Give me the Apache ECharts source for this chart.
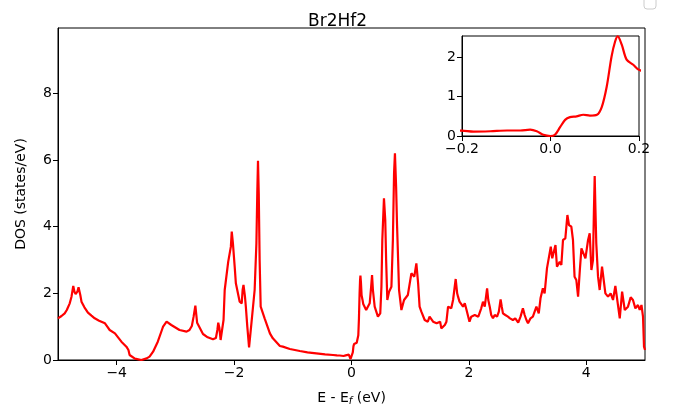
<!DOCTYPE html>
<html>
<head>
<meta charset="utf-8">
<script src="https://cdn.jsdelivr.net/npm/echarts@6/dist/echarts.min.js"></script>
<style>html,body{margin:0;padding:0;background:#fff;}#c{width:675px;height:417px;}</style>
</head>
<body>
<div id="c"></div>
<script>
const title = 'Br2Hf2';
const xTicksMain = [-4, -2, 0, 2, 4];
const yTicksMain = [0, 2, 4, 6, 8];
const xTicksInset = [-0.2, 0, 0.2];
const yTicksInset = [0, 1, 2];

const energy = [
-5.00,-4.97,-4.94,-4.91,-4.886,-4.85,-4.80,-4.77,-4.74,-4.72,-4.70,-4.67,-4.65,-4.62,-4.60,-4.55,-4.49,-4.43,-4.375,-4.30,
-4.20,-4.16,-4.12,-4.03,-3.92,-3.835,-3.80,-3.78,-3.69,-3.58,-3.49,-3.44,-3.38,-3.30,-3.23,-3.21,-3.15,-3.07,-2.93,-2.81,
-2.76,-2.72,-2.69,-2.66,-2.63,-2.53,-2.45,-2.36,-2.31,-2.285,-2.27,-2.25,-2.23,-2.20,-2.18,-2.16,-2.10,-2.075,-2.055,-2.04,
-2.02,-1.99,-1.97,-1.905,-1.87,-1.855,-1.84,-1.815,-1.80,-1.775,-1.745,-1.705,-1.65,-1.62,-1.605,-1.593,-1.58,-1.565,-1.547,-1.48,
-1.39,-1.34,-1.22,-1.17,-1.05,-0.88,-0.75,-0.60,-0.45,-0.315,-0.25,-0.20,-0.174,-0.136,-0.098,-0.068,-0.046,-0.031,-0.016,0.0,
0.010,0.022,0.033,0.044,0.059,0.074,0.089,0.105,0.116,0.127,0.138,0.146,0.152,0.161,0.172,0.187,0.20,0.25,0.31,0.335,
0.35,0.365,0.395,0.45,0.49,0.51,0.525,0.553,0.575,0.59,0.61,0.64,0.68,0.705,0.725,0.74,0.76,0.775,0.81,0.85,
0.895,0.96,1.02,1.05,1.07,1.105,1.135,1.16,1.19,1.247,1.275,1.30,1.33,1.36,1.39,1.42,1.45,1.48,1.51,1.53,
1.56,1.59,1.617,1.645,1.673,1.70,1.73,1.775,1.80,1.815,1.84,1.87,1.90,1.93,1.96,1.99,2.01,2.04,2.07,2.10,
2.13,2.16,2.18,2.21,2.24,2.27,2.31,2.33,2.355,2.38,2.41,2.44,2.48,2.51,2.54,2.56,2.58,2.62,2.665,2.70,
2.75,2.79,2.84,2.88,2.92,2.95,2.98,3.007,3.05,3.09,3.12,3.15,3.19,3.22,3.26,3.29,3.33,3.36,3.395,3.42,
3.45,3.475,3.50,3.547,3.575,3.603,3.643,3.678,3.705,3.745,3.773,3.80,3.83,3.86,3.89,3.917,3.95,3.985,4.03,4.058,
4.087,4.114,4.13,4.143,4.156,4.17,4.20,4.228,4.268,4.29,4.325,4.37,4.415,4.455,4.495,4.52,4.57,4.61,4.655,4.71,
4.756,4.795,4.836,4.88,4.91,4.94,4.966,4.983,5.00
];
const dos = [
1.25,1.22,1.32,1.30,1.40,1.50,1.70,1.90,2.22,2.05,1.98,2.05,2.18,1.95,1.75,1.58,1.42,1.33,1.25,1.18,
1.10,1.00,0.90,0.80,0.55,0.40,0.30,0.15,0.04,0.00,0.05,0.10,0.25,0.55,0.90,1.00,1.15,1.05,0.90,0.85,
0.90,1.02,1.30,1.63,1.12,0.78,0.68,0.62,0.66,0.90,1.12,0.95,0.60,0.55,1.20,2.10,2.95,2.95,3.40,3.85,
3.50,2.80,2.30,1.75,1.70,2.10,2.25,1.90,1.60,1.00,0.38,1.10,2.10,3.50,5.00,5.98,5.00,3.00,1.60,1.25,
0.80,0.65,0.42,0.40,0.33,0.27,0.23,0.20,0.17,0.15,0.14,0.135,0.11,0.12,0.14,0.14,0.16,0.12,0.03,0.00,
0.03,0.23,0.41,0.48,0.50,0.54,0.52,0.54,0.74,1.25,2.02,2.40,2.53,2.32,1.94,1.81,1.68,1.50,1.70,2.20,
2.55,2.10,1.60,1.30,1.40,2.20,3.60,4.85,4.20,3.00,1.80,2.05,2.20,3.60,5.60,6.20,5.20,4.10,2.10,1.50,
1.80,1.95,2.60,2.65,2.50,2.90,2.30,1.60,1.45,1.20,1.25,1.15,1.30,1.25,1.15,1.20,1.10,1.05,1.15,0.95,
0.95,1.05,1.15,1.60,1.65,1.55,1.80,2.43,2.00,1.90,1.75,1.75,1.60,1.70,1.50,1.45,1.15,1.30,1.25,1.35,
1.40,1.30,1.40,1.55,1.75,1.60,2.15,1.80,1.60,1.35,1.25,1.35,1.30,1.45,1.82,1.60,1.40,1.35,1.30,1.25,
1.20,1.25,1.12,1.30,1.55,1.35,1.20,1.10,1.25,1.30,1.45,1.60,1.40,1.85,2.15,2.00,2.75,2.70,3.40,3.05,
3.10,3.45,2.80,2.95,2.85,3.60,3.65,4.35,4.05,4.00,3.60,2.50,2.40,1.90,2.70,3.35,3.30,3.05,3.60,3.80,
2.70,3.00,4.50,5.52,4.50,3.50,2.50,2.10,2.80,2.75,2.00,1.90,2.00,1.80,2.22,1.90,1.25,2.05,1.50,1.60,
1.88,1.80,1.55,1.65,1.50,1.65,1.30,0.40,0.30
];

const pts = energy.map((e, i) => [e, dos[i]]);
const font = 'DejaVu Sans';
const minus = v => String(v).replace('-', '\u2212');

const chart = echarts.init(document.getElementById('c'), null, {renderer: 'canvas'});
chart.setOption({
  animation: false,
  backgroundColor: '#fff',
  title: {
    text: title, left: 'center', top: 8,
    textStyle: {fontFamily: font, fontSize: 17, fontWeight: 'normal', color: '#000'}
  },
  graphic: [{
    type: 'rect', shape: {x: 644, y: -4, width: 12, height: 13, r: 3},
    style: {fill: '#fff', stroke: '#ccc', lineWidth: 1}
  }],
  grid: [
    {left: 58, top: 28, width: 587, height: 332, show: true, borderColor: '#000', borderWidth: 1, backgroundColor: 'transparent'},
    {left: 462, top: 36, width: 177, height: 100, show: true, borderColor: '#000', borderWidth: 1, backgroundColor: '#fff', z: 5}
  ],
  xAxis: [
    {
      type: 'value', gridIndex: 0, min: -5, max: 5,
      name: '{a|E - E}{b|f}{a| (eV)}', nameLocation: 'middle', nameGap: 30,
      nameTextStyle: {
        rich: {
          a: {fontFamily: font, fontSize: 14, color: '#000'},
          b: {fontFamily: font, fontSize: 10, fontStyle: 'italic', color: '#000', padding: [6, 0, 0, 0]}
        }
      },
      axisLine: {show: true, onZero: false, lineStyle: {color: '#000', width: 1}},
      axisTick: {show: true, length: 5, lineStyle: {color: '#000'}, customValues: xTicksMain},
      axisLabel: {fontFamily: font, fontSize: 14, color: '#000', margin: 6, customValues: xTicksMain, formatter: v => minus(v)},
      splitLine: {show: false}
    },
    {
      type: 'value', gridIndex: 1, min: -0.2, max: 0.2,
      axisLine: {show: true, onZero: false, lineStyle: {color: '#000', width: 1}},
      axisTick: {show: true, length: 5, lineStyle: {color: '#000'}, customValues: xTicksInset},
      axisLabel: {fontFamily: font, fontSize: 14, color: '#000', margin: 6, customValues: xTicksInset, formatter: v => minus(v.toFixed(1))},
      splitLine: {show: false}, z: 6
    }
  ],
  yAxis: [
    {
      type: 'value', gridIndex: 0, min: 0, max: 9.96,
      name: 'DOS (states/eV)', nameLocation: 'middle', nameGap: 30,
      nameTextStyle: {fontFamily: font, fontSize: 14, color: '#000'},
      axisLine: {show: true, onZero: false, lineStyle: {color: '#000', width: 1}},
      axisTick: {show: true, length: 5, lineStyle: {color: '#000'}, customValues: yTicksMain},
      axisLabel: {fontFamily: font, fontSize: 14, color: '#000', margin: 6, customValues: yTicksMain},
      splitLine: {show: false}
    },
    {
      type: 'value', gridIndex: 1, min: 0, max: 2.54,
      axisLine: {show: true, onZero: false, lineStyle: {color: '#000', width: 1}},
      axisTick: {show: true, length: 5, lineStyle: {color: '#000'}, customValues: yTicksInset},
      axisLabel: {fontFamily: font, fontSize: 14, color: '#000', margin: 6, customValues: yTicksInset},
      splitLine: {show: false}, z: 6
    }
  ],
  series: [
    {type: 'line', xAxisIndex: 0, yAxisIndex: 0, data: pts, showSymbol: false, symbol: 'none',
     lineStyle: {color: '#ff0000', width: 2.2}, clip: true, z: 2},
    {type: 'line', xAxisIndex: 1, yAxisIndex: 1, data: pts, showSymbol: false, symbol: 'none', smooth: 0.3,
     lineStyle: {color: '#ff0000', width: 2.2}, clip: true, z: 7}
  ]
});
</script>
</body>
</html>
